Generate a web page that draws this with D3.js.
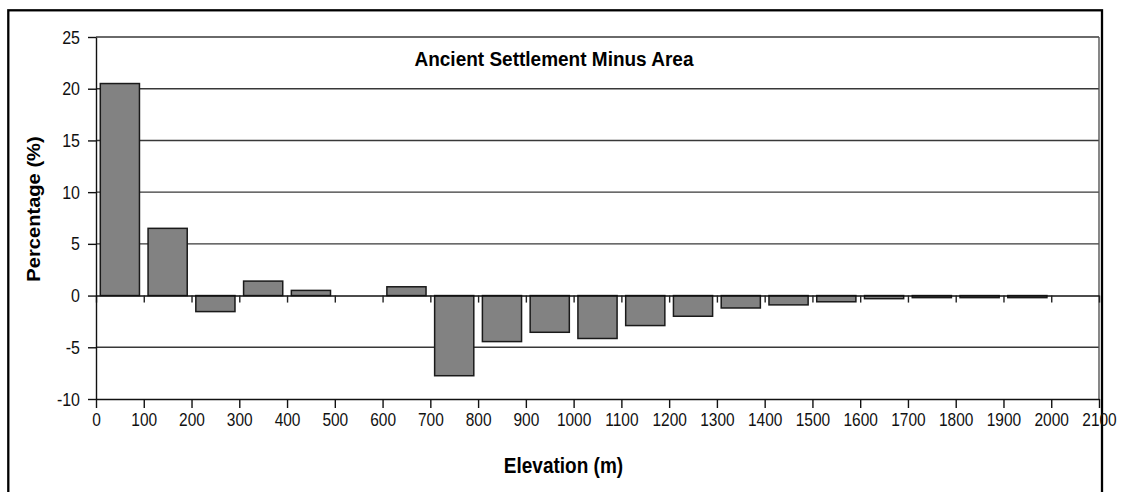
<!DOCTYPE html>
<html>
<head>
<meta charset="utf-8">
<script src="https://cdn.jsdelivr.net/npm/d3@7"></script>
<style>
  body { margin: 0; background: #fff; }
  svg { display: block; font-family: "Liberation Sans", Arial, sans-serif; }
</style>
</head>
<body>
<svg id="svg1" width="1122" height="492"></svg>
<script>
// elevation bins (lower bound, m) and the percentage difference for each
var binStarts = [0, 100, 200, 300, 400, 500, 600, 700, 800, 900, 1000,
                 1100, 1200, 1300, 1400, 1500, 1600, 1700, 1800, 1900, 2000];
var pctValues = [20.5, 6.5, -1.55, 1.4, 0.5, 0, 0.85, -7.75, -4.45, -3.55, -4.15,
                 -2.9, -2.0, -1.2, -0.9, -0.6, -0.3, -0.2, -0.2, -0.2, 0];
var xTickValues = d3.range(0, 2101, 100);
var yTickValues = [-10, -5, 0, 5, 10, 15, 20, 25];

var chartTitle = "Ancient Settlement Minus Area";
var xTitle = "Elevation (m)";
var yTitle = "Percentage (%)";

var svg = d3.select('#svg1');

// plot area edges (window.top is reserved, so use other names)
var plotLeft = 96, plotRight = 1099, plotTop = 37, plotBottom = 399;

// plain hyphen minus, like the original
var plainFmt = function(d){ return String(d); };

// outer frame
svg.append('rect')
    .attr('x', 8.3).attr('y', 10.3)
    .attr('width', 1093.7).attr('height', 500)
    .attr('fill', 'none')
    .attr('stroke', '#000')
    .attr('stroke-width', 2.3);

var x = d3.scaleLinear().domain([0, 2100]).range([plotLeft, plotRight]);
var band = d3.scaleBand()
    .domain(binStarts)
    .range([plotLeft, plotRight])
    .paddingInner(0.18)
    .paddingOuter(0.09);
var y = d3.scaleLinear().domain([-10, 25]).range([plotBottom, plotTop]);

// horizontal grid lines
svg.append('g')
    .selectAll('line')
    .data(yTickValues.filter(function(d){ return d !== 0 && d !== -10; }))
    .enter()
    .append('line')
    .attr('x1', plotLeft).attr('x2', plotRight)
    .attr('y1', function(d){ return y(d); })
    .attr('y2', function(d){ return y(d); })
    .attr('stroke', '#383838')
    .attr('stroke-width', 1.4);

// right edge of plot area
svg.append('line')
    .attr('x1', plotRight).attr('x2', plotRight)
    .attr('y1', plotTop).attr('y2', plotBottom)
    .attr('stroke', '#555')
    .attr('stroke-width', 1.4);

// bars
svg.append('g')
    .selectAll('rect')
    .data(binStarts.map(function(b, i){ return {bin: b, v: pctValues[i]}; })
        .filter(function(d){ return d.v !== 0; }))
    .enter()
    .append('rect')
    .attr('x', function(d){ return band(d.bin); })
    .attr('width', band.bandwidth())
    .attr('y', function(d){ return y(Math.max(0, d.v)); })
    .attr('height', function(d){ return Math.abs(y(d.v) - y(0)); })
    .attr('fill', '#828282')
    .attr('stroke', '#1a1a1a')
    .attr('stroke-width', 1.5);

// zero line with short ticks
var zeroAxis = svg.append('g')
    .attr('transform', 'translate(0,' + y(0) + ')')
    .call(d3.axisBottom(x).tickValues(xTickValues).tickSize(7).tickSizeOuter(0).tickFormat(''));
zeroAxis.select('.domain').attr('stroke', '#111').attr('stroke-width', 1.4);
zeroAxis.selectAll('.tick line').attr('stroke', '#222').attr('stroke-width', 1.4);

// bottom axis with labels
var xAxis = svg.append('g')
    .attr('transform', 'translate(0,' + plotBottom + ')')
    .call(d3.axisBottom(x).tickValues(xTickValues).tickSize(9).tickSizeOuter(0).tickFormat(plainFmt));
xAxis.select('.domain').attr('stroke', '#111').attr('stroke-width', 1.4);
xAxis.selectAll('.tick line').attr('stroke', '#111').attr('stroke-width', 1.4);
xAxis.selectAll('.tick text')
    .attr('y', 0).attr('dy', 0)
    .attr('transform', 'translate(0,27) scale(1,1.15)')
    .attr('fill', '#111')
    .style('font-size', '15.5px');

// y axis
var yAxis = svg.append('g')
    .attr('transform', 'translate(' + plotLeft + ',0)')
    .call(d3.axisLeft(y).tickValues(yTickValues).tickSize(8).tickSizeOuter(0).tickFormat(plainFmt));
yAxis.select('.domain').attr('stroke', '#111').attr('stroke-width', 1.4);
yAxis.selectAll('.tick line').attr('stroke', '#111').attr('stroke-width', 1.4);
yAxis.selectAll('.tick text')
    .attr('x', 0).attr('dy', 0)
    .attr('transform', 'translate(-16,6) scale(1,1.1)')
    .attr('fill', '#111')
    .style('font-size', '16px');

// titles
svg.append('text')
    .attr('transform', 'translate(554,66) scale(1,1.1)')
    .attr('text-anchor', 'middle')
    .style('font-size', '19px')
    .style('font-weight', 'bold')
    .text(chartTitle);

svg.append('text')
    .attr('transform', 'translate(563.5,473) scale(1,1.15)')
    .attr('text-anchor', 'middle')
    .style('font-size', '19px')
    .style('font-weight', 'bold')
    .text(xTitle);

svg.append('text')
    .attr('transform', 'translate(40,209) rotate(-90) scale(1.15,1)')
    .attr('text-anchor', 'middle')
    .style('font-size', '17.5px')
    .style('font-weight', 'bold')
    .text(yTitle);
</script>
</body>
</html>
